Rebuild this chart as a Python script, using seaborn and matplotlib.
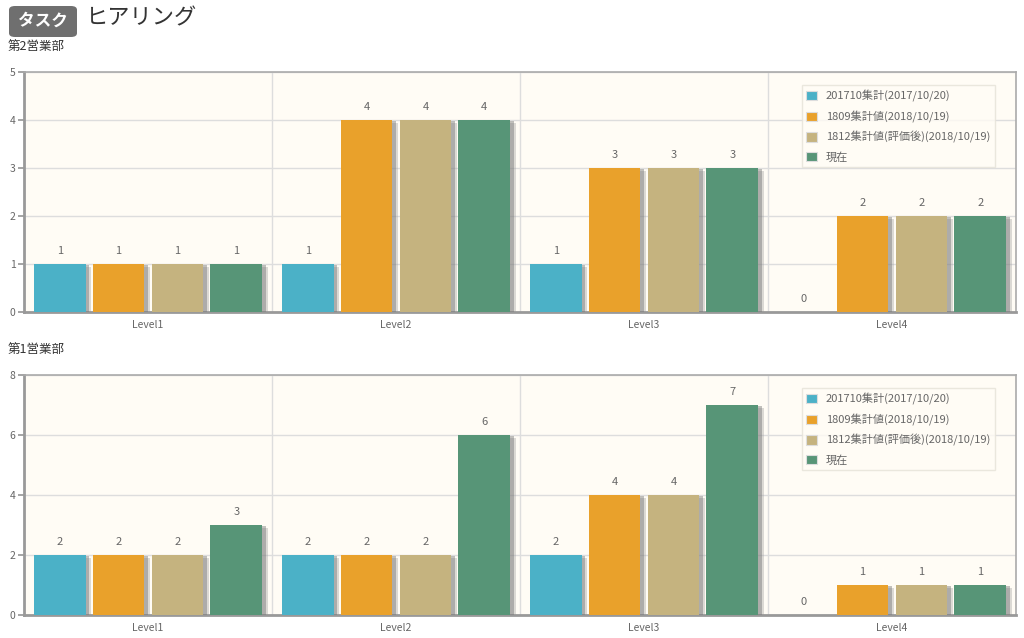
import matplotlib
matplotlib.use("Agg")
import matplotlib.pyplot as plt
import matplotlib.patheffects as pe
from matplotlib.patches import FancyBboxPatch
import seaborn as sns
import pandas as pd
import numpy as np

categories = ["Level1", "Level2", "Level3", "Level4"]
series = ["201710集計(2017/10/20)", "1809集計値(2018/10/19)",
          "1812集計値(評価後)(2018/10/19)", "現在"]
colors = ["#4bb1c7", "#e9a12b", "#c5b37f", "#579577"]

dept2_values = [
    [1, 1, 1, 0],
    [1, 4, 3, 2],
    [1, 4, 3, 2],
    [1, 4, 3, 2],
]
dept1_values = [
    [2, 2, 2, 0],
    [2, 2, 4, 1],
    [2, 2, 4, 1],
    [3, 6, 7, 1],
]
panel_titles = ["第2営業部", "第1営業部"]
y_limits = [5, 8]
y_steps = [1, 2]

sns.set_theme(style="white")
plt.rcParams["font.family"] = ["Noto Sans CJK JP", "DejaVu Sans"]

fig = plt.figure(figsize=(10.24, 6.38), dpi=100)

def to_df(values):
    rows = []
    for s, vals in zip(series, values):
        for c, v in zip(categories, vals):
            rows.append({"cat": c, "series": s, "value": v})
    return pd.DataFrame(rows)

axes_pos = [
    [24 / 1024, 1 - 312 / 638, 992 / 1024, 240 / 638],
    [24 / 1024, 1 - 615 / 638, 992 / 1024, 240 / 638],
]

for i, (vals, pos) in enumerate(zip([dept2_values, dept1_values], axes_pos)):
    ax = fig.add_axes(pos)
    df = to_df(vals)
    sns.barplot(data=df, x="cat", y="value", hue="series", palette=colors,
                hue_order=series, order=categories, width=0.95, gap=0.12,
                ax=ax, errorbar=None, saturation=1, zorder=3, linewidth=0)
    ax.set_facecolor("#fffcf5")
    for p in ax.patches:
        p.set_linewidth(0)
        p.set_path_effects([
            pe.SimplePatchShadow(offset=(4, -2), shadow_rgbFace="#999999", alpha=0.35),
            pe.SimplePatchShadow(offset=(2.5, -1), shadow_rgbFace="#777777", alpha=0.45),
            pe.Normal()])
    for cont in ax.containers:
        ax.bar_label(cont, labels=[f"{int(v)}" for v in cont.datavalues],
                     padding=6, fontsize=8, color="#666666")
    ax.set_xlim(-0.5, len(categories) - 0.5)
    ax.set_ylim(0, y_limits[i])
    ax.set_yticks(np.arange(0, y_limits[i] + 0.1, y_steps[i]))
    ax.set_xticks(range(len(categories)))
    ax.set_xticklabels(categories)
    ax.set_xticks([k + 0.5 for k in range(len(categories) - 1)], minor=True)
    ax.tick_params(axis="x", which="major", length=0, labelsize=7.5, labelcolor="#666666", pad=6)
    ax.tick_params(axis="x", which="minor", length=4, color="#bbbbbb", direction="out")
    ax.tick_params(axis="y", length=4, color="#999999", labelsize=7.5, labelcolor="#666666", pad=2, left=True)
    ax.set_xlabel("")
    ax.set_ylabel("")
    ax.grid(axis="y", color="#dddddd", linewidth=1, zorder=0)
    ax.grid(axis="x", which="minor", color="#dddddd", linewidth=1, zorder=0)
    ax.set_axisbelow(True)
    for side in ["left", "bottom"]:
        ax.spines[side].set_color("#999999")
        ax.spines[side].set_linewidth(2)
    for side in ["top", "right"]:
        ax.spines[side].set_color("#aaaaaa")
        ax.spines[side].set_linewidth(1.2)
    leg = ax.legend(loc="upper right", bbox_to_anchor=(0.984, 0.967), fontsize=8,
                    frameon=True, handlelength=1.0, handleheight=0.9,
                    labelspacing=0.78, borderpad=0.4, handletextpad=0.75)
    leg.get_frame().set_facecolor("#fffcf5")
    leg.get_frame().set_edgecolor("#e5e2d8")
    leg.get_frame().set_boxstyle("square", pad=0)
    for t in leg.get_texts():
        t.set_color("#666666")
    for h in leg.legend_handles:
        h.set_edgecolor("#dddddd")
        h.set_linewidth(0.8)
        h.set_path_effects([])
    top_px = pos[1] + pos[3]
    fig.text(8 / 1024, top_px + 26 / 638, panel_titles[i], fontsize=9,
             color="#333333", va="center", ha="left")

# header
box = FancyBboxPatch((9 / 1024, 1 - 37 / 638), 68 / 1024, 31 / 638,
                     boxstyle="round,pad=0,rounding_size=0.006",
                     transform=fig.transFigure, facecolor="#6f6f6f",
                     edgecolor="none")
fig.patches.append(box)
fig.text(43 / 1024, 1 - 21 / 638, "タスク", fontsize=12, fontweight="bold",
         color="white", ha="center", va="center")
fig.text(86 / 1024, 1 - 18 / 638, "ヒアリング", fontsize=16, color="#333333",
         ha="left", va="center")

fig.savefig("out.png", dpi=100, facecolor="white")
